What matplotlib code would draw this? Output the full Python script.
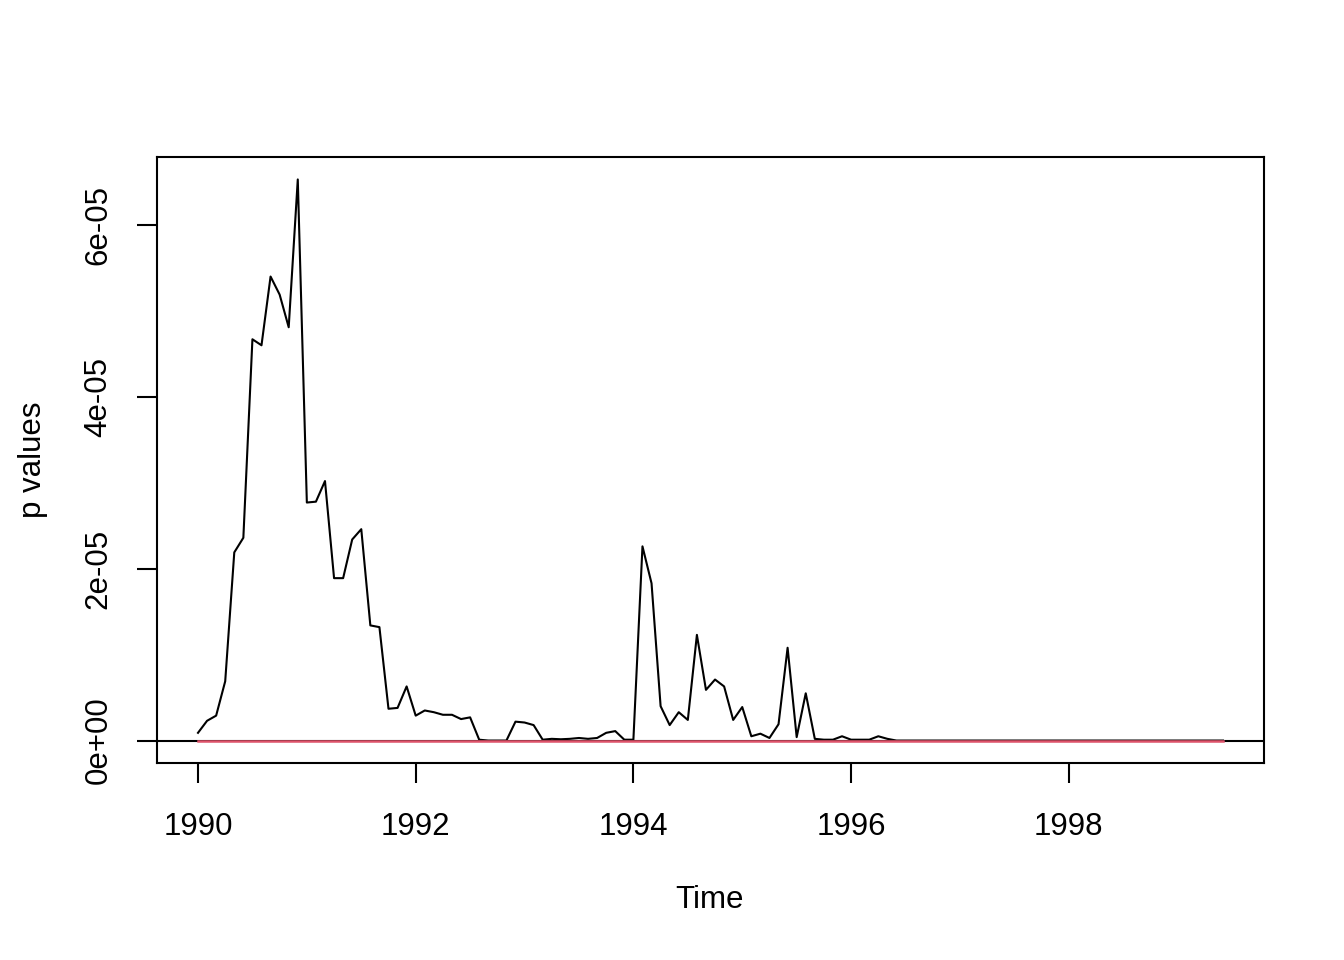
import numpy as np
import matplotlib
matplotlib.use("Agg")
import matplotlib.pyplot as plt
from matplotlib.ticker import FuncFormatter

# Monthly series starting January 1990, values in units of 1e-05
start_year = 1990
months_per_year = 12
p_values_e5 = [
    0.09, 0.23, 0.29, 0.69, 2.19, 2.36, 4.67, 4.60, 5.40, 5.19, 4.81, 6.53,   # 1990
    2.77, 2.78, 3.02, 1.89, 1.89, 2.34, 2.46, 1.34, 1.32, 0.37, 0.38, 0.63,   # 1991
    0.29, 0.35, 0.33, 0.30, 0.30, 0.25, 0.27, 0.01, 0.00, 0.00, 0.00, 0.22,   # 1992
    0.21, 0.18, 0.01, 0.02, 0.015, 0.02, 0.03, 0.02, 0.03, 0.09, 0.11, 0.01,  # 1993
    0.01, 2.26, 1.83, 0.40, 0.18, 0.33, 0.24, 1.23, 0.59, 0.71, 0.63, 0.24,   # 1994
    0.39, 0.05, 0.08, 0.03, 0.19, 1.08, 0.04, 0.55, 0.02, 0.01, 0.01, 0.05,   # 1995
    0.01, 0.01, 0.01, 0.05, 0.02, 0.00, 0.00, 0.00, 0.00, 0.00, 0.00, 0.00,   # 1996
    0.00, 0.00, 0.00, 0.00, 0.00, 0.00, 0.00, 0.00, 0.00, 0.00, 0.00, 0.00,   # 1997
    0.00, 0.00, 0.00, 0.00, 0.00, 0.00, 0.00, 0.00, 0.00, 0.00, 0.00, 0.00,   # 1998
    0.00, 0.00, 0.00, 0.00, 0.00, 0.00,                                       # 1999
]
second_series_e5 = [
    0, 0, 0, 0, 0, 0, 0, 0, 0, 0, 0, 0,
    0, 0, 0, 0, 0, 0, 0, 0, 0, 0, 0, 0,
    0, 0, 0, 0, 0, 0, 0, 0, 0, 0, 0, 0,
    0, 0, 0, 0, 0, 0, 0, 0, 0, 0, 0, 0,
    0, 0, 0, 0, 0, 0, 0, 0, 0, 0, 0, 0,
    0, 0, 0, 0, 0, 0, 0, 0, 0, 0, 0, 0,
    0, 0, 0, 0, 0, 0, 0, 0, 0, 0, 0, 0,
    0, 0, 0, 0, 0, 0, 0, 0, 0, 0, 0, 0,
    0, 0, 0, 0, 0, 0, 0, 0, 0, 0, 0, 0,
    0, 0, 0, 0, 0, 0,
]
x_ticks = [1990, 1992, 1994, 1996, 1998]
y_ticks_e5 = [0, 2, 4, 6]
x_label = "Time"
y_label = "p values"

scale = 1e-5
y1 = np.array(p_values_e5) * scale
y2 = np.array(second_series_e5) * scale
t = start_year + np.arange(len(y1)) / months_per_year

plt.rcParams['font.family'] = ['Liberation Sans', 'DejaVu Sans']

fig = plt.figure(figsize=(13.44, 9.6), dpi=100)
ax = fig.add_axes([157/1344, 1 - 763/960, (1264-157)/1344, (763-157)/960])

lw = 1.5
ax.axhline(0, color='black', lw=lw, zorder=1)
ax.plot(t, y1, color='black', lw=lw, zorder=2)
ax.plot(t, y2, color='#DF536B', lw=lw + 0.3, zorder=3)

# R-style 4% padding
xr = t.max() - t.min()
ax.set_xlim(t.min() - 0.04 * xr, t.max() + 0.04 * xr)
yr = y1.max() - 0
ax.set_ylim(0 - 0.04 * yr, y1.max() + 0.04 * yr)

ax.set_xticks(x_ticks)
ax.set_xticklabels([str(v) for v in x_ticks])
ax.set_yticks(np.array(y_ticks_e5) * scale)
ax.yaxis.set_major_formatter(FuncFormatter(lambda v, p: '%.0e' % v))

for s in ax.spines.values():
    s.set_linewidth(lw)
ax.tick_params(axis='both', direction='out', length=14.4, width=lw,
               labelsize=22.5, colors='black')
ax.tick_params(axis='x', pad=21)
ax.tick_params(axis='y', pad=17)
for lab in ax.get_yticklabels():
    lab.set_rotation(90)
    lab.set_va('center')
    lab.set_ha('right')

fig.text(710/1344, 1 - 900/960, x_label, ha='center', va='center', fontsize=22.5)
fig.text(33/1344, 1 - 460/960, y_label, ha='center', va='center', fontsize=22.5, rotation=90)

fig.savefig('out.png', dpi=100)
